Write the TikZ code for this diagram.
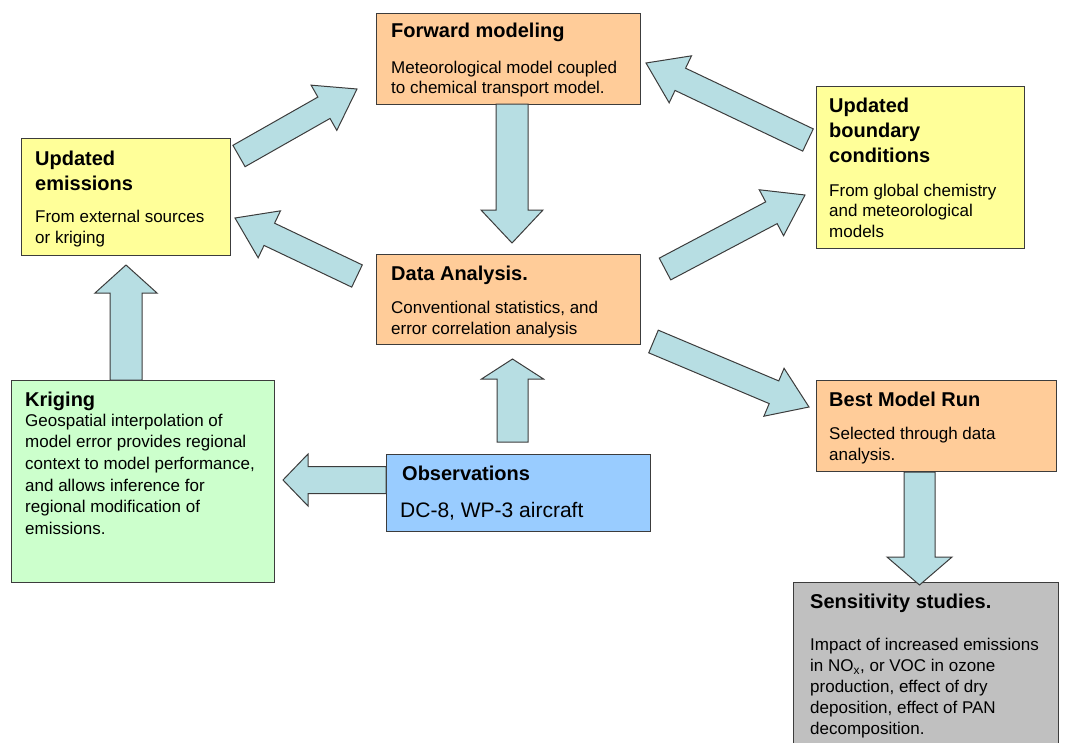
\documentclass[tikz,border=0pt]{standalone}
\usepackage{fontspec}
\setmainfont{Liberation Sans}
\usetikzlibrary{calc}

\definecolor{peach}{HTML}{FFCC99}
\definecolor{lemon}{HTML}{FFFF99}
\definecolor{mint}{HTML}{CCFFCC}
\definecolor{sky}{HTML}{99CCFF}
\definecolor{silver}{HTML}{C0C0C0}
\definecolor{aqua}{HTML}{B7DEE3}
\definecolor{rim}{HTML}{3C3C3C}

\newcommand{\hdfont}{\fontsize{20}{25}\selectfont\bfseries}
\newcommand{\txfont}{\fontsize{17}{20.5}\selectfont}

\tikzset{
  shaft half/.store in=\arrshaft,
  head half/.store in=\arrhead,
  head len/.store in=\arrlen,
  wide arrow/.style={shaft half=15.5pt,head half=31pt,head len=28pt},
  slim arrow/.style={shaft half=12.3pt,head half=26pt,head len=38pt},
  arrowbody/.style={draw=rim,fill=aqua,line width=1pt,line join=miter}
}

% block arrow from tail #2 to tip #3
\newcommand{\fatarrow}[3][]{%
  \begin{scope}[wide arrow,#1]
    \coordinate (hb) at ($(#3)!\arrlen!(#2)$);
    \draw[arrowbody] ($(#2)!\arrshaft!-90:(#3)$) -- ($(hb)!\arrshaft!-90:(#3)$)
      -- ($(hb)!\arrhead!-90:(#3)$) -- (#3) -- ($(hb)!\arrhead!90:(#3)$)
      -- ($(hb)!\arrshaft!90:(#3)$) -- ($(#2)!\arrshaft!90:(#3)$) -- cycle;
  \end{scope}}

\begin{document}
\begin{tikzpicture}[x=1pt,y=-1pt,
  box/.style={draw=rim,line width=1.2pt,anchor=north west,inner sep=0pt},
  hd/.style={anchor=base west,inner sep=0pt,font=\hdfont,align=left},
  tx/.style={anchor=base west,inner sep=0pt,font=\txfont,align=left}]
  \useasboundingbox (0,0) rectangle (1070,742);
  \clip (0,0) rectangle (1070,742);

  % boxes
  \node[box,fill=peach,minimum width=264,minimum height=91] (fwd) at (376,13) {};
  \node[box,fill=lemon,minimum width=209,minimum height=117] (emis) at (21,138) {};
  \node[box,fill=lemon,minimum width=208,minimum height=162] (bnd) at (816,86) {};
  \node[box,fill=peach,minimum width=264,minimum height=90] (data) at (376,254) {};
  \node[box,fill=mint,minimum width=263,minimum height=202] (krig) at (11,380) {};
  \node[box,fill=sky,minimum width=264,minimum height=77] (obs) at (386,454) {};
  \node[box,fill=peach,minimum width=240,minimum height=91] (best) at (816,380) {};
  \node[box,fill=silver,minimum width=265,minimum height=190] (sens) at (793,582) {};

  % texts (base = last line)
  \node[hd] (fwd-hd) at ($(fwd.north west)+(15,24.7)$) {Forward modeling};
  \node[tx] (fwd-tx) at ($(fwd.north west)+(15,80.5)$)
    {Meteorological model coupled\\to chemical transport model.};
  \node[hd] (emis-hd) at ($(emis.north west)+(14,52)$) {Updated\\emissions};
  \node[tx] (emis-tx) at ($(emis.north west)+(14,105)$) {From external sources\\or kriging};
  \node[hd] (bnd-hd) at ($(bnd.north west)+(13,76)$) {Updated\\boundary\\conditions};
  \node[tx] (bnd-tx) at ($(bnd.north west)+(13,151)$)
    {From global chemistry\\and meteorological\\models};
  \node[hd] (data-hd) at ($(data.north west)+(15,26)$) {Data Analysis.};
  \node[tx] (data-tx) at ($(data.north west)+(15,80)$)
    {Conventional statistics, and\\error correlation analysis};
  \node[hd] (krig-hd) at ($(krig.north west)+(14,26.5)$) {Kriging};
  \node[tx,font=\fontsize{17}{21.7}\selectfont] (krig-tx) at ($(krig.north west)+(14,154.5)$)
    {Geospatial interpolation of\\model error provides regional\\context to model performance,\\and allows inference for\\regional modification of\\emissions.};
  \node[hd] (obs-hd) at ($(obs.north west)+(16,26)$) {Observations};
  \node[tx,font=\fontsize{21}{25}\selectfont] (obs-tx) at ($(obs.north west)+(14,63)$)
    {DC-8, WP-3 aircraft};
  \node[hd] (best-hd) at ($(best.north west)+(13,26)$) {Best Model Run};
  \node[tx] (best-tx) at ($(best.north west)+(13,80)$) {Selected through data\\analysis.};
  \node[hd] (sens-hd) at ($(sens.north west)+(17,26)$) {Sensitivity studies.};
  \node[tx,font=\fontsize{17}{20.8}\selectfont] (sens-tx) at ($(sens.north west)+(17,152)$)
    {Impact of increased emissions\\in NO\textsubscript{x}, or VOC in ozone\\production, effect of dry\\deposition, effect of PAN\\decomposition.};

  % arrow ends
  \coordinate (fwd-s) at (512,104);
  \coordinate (data-n) at (512,243);
  \coordinate (obs-n) at (512.5,442);
  \coordinate (data-s) at (512.5,359);
  \coordinate (obs-w) at (386,480);
  \coordinate (krig-e) at (283,480);
  \coordinate (krig-n) at (126,380);
  \coordinate (emis-s) at (126,265);
  \coordinate (best-s) at (919.5,472);
  \coordinate (sens-n) at (919.5,585);
  \coordinate (emis-ne) at (239,156);
  \coordinate (fwd-w) at (357,89);
  \coordinate (data-w) at (357,276);
  \coordinate (emis-e) at (235,218);
  \coordinate (bnd-nw) at (808,140);
  \coordinate (fwd-e) at (646,63);
  \coordinate (data-ne) at (665,269);
  \coordinate (bnd-w) at (805,195);
  \coordinate (data-se) at (653.5,341.5);
  \coordinate (best-w) at (809,407);

  % arrows
  \fatarrow[head len=33pt,shaft half=16pt]{fwd-s}{data-n}
  \fatarrow[head len=20pt]{obs-n}{data-s}
  \fatarrow[shaft half=13.5pt,head half=26pt,head len=25pt]{obs-w}{krig-e}
  \fatarrow[shaft half=16pt]{krig-n}{emis-s}
  \fatarrow[head half=32.5pt]{best-s}{sens-n}
  \fatarrow[slim arrow]{emis-ne}{fwd-w}
  \fatarrow[slim arrow]{data-w}{emis-e}
  \fatarrow[slim arrow]{bnd-nw}{fwd-e}
  \fatarrow[slim arrow]{data-ne}{bnd-w}
  \fatarrow[slim arrow]{data-se}{best-w}
\end{tikzpicture}
\end{document}
